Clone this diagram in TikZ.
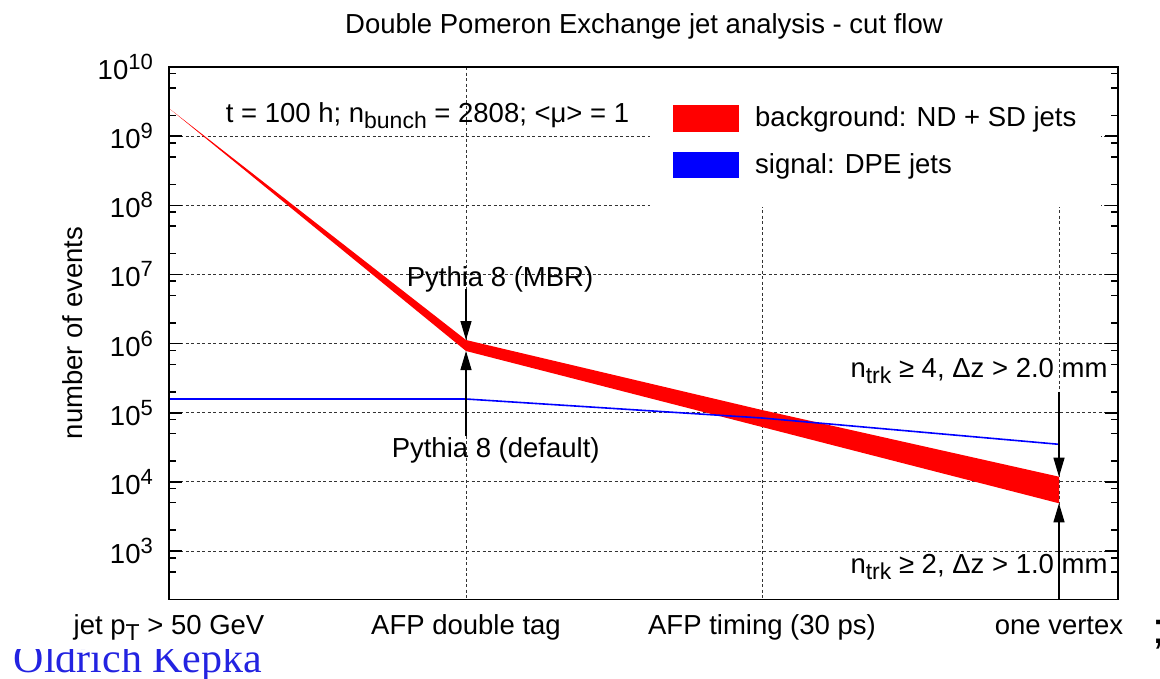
\documentclass[tikz,border=0pt]{standalone}
\usepackage{fontspec}
\setmainfont{Liberation Sans}
\newfontfamily\authorfont{Liberation Serif}
\usetikzlibrary{arrows.meta}

% gnuplot-like enhanced-text indices
\newcommand\supidx[1]{\raisebox{0.36em}{\fontsize{22}{22}\selectfont #1}}
\newcommand\subidx[1]{\raisebox{-0.25em}{\fontsize{23}{23}\selectfont #1}}
% y position (pt from top) of 10^#1 on the log axis
\newcommand\ly[1]{67+(10-(#1))*69.15}

\definecolor{authorblue}{RGB}{35,35,225}

\tikzset{
  lbl/.style={inner sep=0pt, font=\fontsize{27.5}{33}\selectfont},
  gridline/.style={black!80, line width=0.9pt, dash pattern=on 3pt off 2.5pt},
  frameline/.style={black, line width=1.8pt},
  tickmark/.style={black, line width=1.5pt},
  sigline/.style={blue, line width=1.6pt, line join=round},
  cutarrow/.style={black, line width=1.2pt, -{Triangle[length=19pt,width=11pt]}},
  swatch/.style={minimum width=66pt, minimum height=26.5pt, inner sep=0pt},
}

\begin{document}
\begin{tikzpicture}[x=1pt,y=-1pt]
\fill[white] (0,0) rectangle (1160,678);
\useasboundingbox (0,0) rectangle (1160,678);

% ---- grid ----
\foreach \e in {3,...,9}
  \draw[gridline] (169,{\ly{\e}}) -- (1118,{\ly{\e}});
\foreach \xx in {466,762,1059}
  \draw[gridline] (\xx,67) -- (\xx,599.5);

% key area is opaque
\fill[white] (650,68) rectangle (1101,206.5);

% ---- data points ----
\coordinate (p0)  at (169,108.3);
\coordinate (b1t) at (466,340);
\coordinate (b1b) at (466,351);
\coordinate (b2t) at (762,410);
\coordinate (b2b) at (762,427);
\coordinate (b3t) at (1059,476.7);
\coordinate (b3b) at (1059,503.3);

\coordinate (s0) at (169,399);
\coordinate (s1) at (466,399);
\coordinate (s2) at (762,418);
\coordinate (s3) at (1059,444.3);

% background band: ND + SD jets
\fill[red] (p0) -- (b1t) -- (b2t) -- (b3t) -- (b3b) -- (b2b) -- (b1b) -- cycle;
% signal: DPE jets
\draw[sigline] (s0) -- (s1) -- (s2) -- (s3);

% ---- frame and y ticks ----
\draw[frameline] (169,67) rectangle (1118,599.5);
\foreach \e in {3,...,10} {
  \draw[tickmark] (169,{\ly{\e}}) -- ++(13,0);
  \draw[tickmark] (1118,{\ly{\e}}) -- ++(-13,0);
}
\foreach \e in {2,...,9}
  \foreach \m in {2,5,8} {
    \draw[tickmark] (169,{\ly{\e+log10(\m)}}) -- ++(7,0);
    \draw[tickmark] (1118,{\ly{\e+log10(\m)}}) -- ++(-7,0);
  }

% y tick labels
\foreach \e in {3,...,10}
  \node[lbl, anchor=east] (ylab\e) at (153,{\ly{\e}}) {10\supidx{\e}};

% axis title
\node[lbl, anchor=base, rotate=90] (yaxis) at (82,333) {number of events};

% x category labels
\node[lbl, anchor=base] (cat0) at (169,634) {jet p\subidx{T} > 50 GeV};
\node[lbl, anchor=base] (cat1) at (466,634) {AFP double tag};
\node[lbl, anchor=base] (cat2) at (762,634) {AFP timing (30 ps)};
\node[lbl, anchor=base] (cat3) at (1059,634) {one vertex};

% title
\node[lbl, anchor=base] (title) at (644,33) {Double Pomeron Exchange jet analysis - cut flow};

% run conditions
\node[lbl, anchor=base] (cond) at (427.5,122) {t = 100 h; n\subidx{bunch} = 2808; <μ> = 1};

% key
\node[swatch, fill=red]  (keybg)  at (706,118.3) {};
\node[swatch, fill=blue] (keysig) at (706,165) {};
\node[lbl, anchor=base west] (keybgtxt)  at (755,126.7) {background: ND + SD jets};
\node[lbl, anchor=base west] (keysigtxt) at (755,173) {signal: DPE jets};

% cut annotations
\node[lbl, anchor=base] (mbr)  at (500,286) {Pythia 8 (MBR)};
\node[lbl, anchor=base] (dflt) at (495.7,457) {Pythia 8 (default)};
\node[lbl, anchor=base] (trk4) at (979,377) {n\subidx{trk} ≥ 4, Δz > 2.0 mm};
\node[lbl, anchor=base] (trk2) at (979,573) {n\subidx{trk} ≥ 2, Δz > 1.0 mm};

\coordinate (mbrtail)  at (466,289);
\coordinate (dflttail) at (466,436);
\coordinate (trk4tail) at (1059,392);
\coordinate (trk2tail) at (1059,599);

\draw[cutarrow] (mbrtail)  -- (b1t);
\draw[cutarrow] (dflttail) -- (b1b);
\draw[cutarrow] (trk4tail) -- (b3t);
\draw[cutarrow] (trk2tail) -- (b3b);

% footer fragments, partly hidden below the plot
\begin{scope}
  \clip (0,649) rectangle (420,678);
  \node[anchor=base west, inner sep=0pt, text=authorblue,
        font=\authorfont\fontsize{42}{42}\selectfont] (author) at (13.5,672) {Oldřich Kepka};
\end{scope}
\begin{scope}
  \clip (1140,600) rectangle (1160,678);
  \node[anchor=base west, inner sep=0pt,
        font=\fontsize{44}{44}\selectfont] (pagefrag) at (1152,643) {;};
\end{scope}
\end{tikzpicture}
\end{document}
